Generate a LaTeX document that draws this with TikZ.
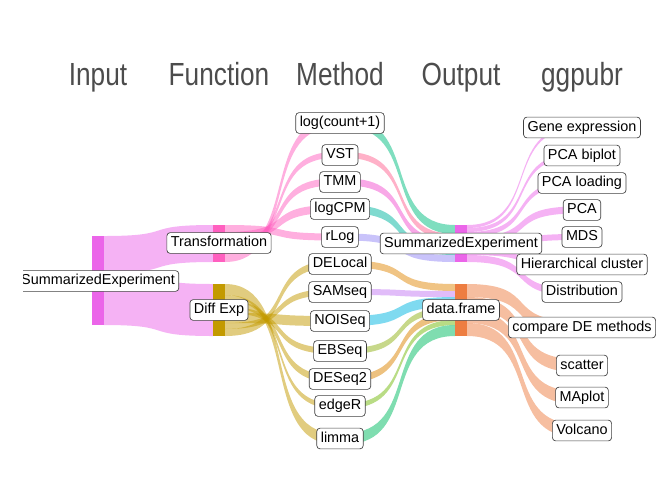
\documentclass[tikz,border=0pt]{standalone}
\usepackage{fontspec}
\setmainfont{Liberation Sans}
\newfontfamily\titlefont[FakeStretch=0.82]{Liberation Sans}
\usepackage{tikz}
\usetikzlibrary{positioning}

\definecolor{colSE}{HTML}{EB65E9}
\definecolor{colTr}{HTML}{FF5FBF}
\definecolor{colDE}{HTML}{C39A00}
\definecolor{colDF}{HTML}{ED7D41}
\definecolor{colLc}{HTML}{00BE80}
\definecolor{colVST}{HTML}{FF6392}
\definecolor{colTMM}{HTML}{F251D0}
\definecolor{colCPM}{HTML}{00B5A0}
\definecolor{colRlog}{HTML}{9488F5}
\definecolor{colDEL}{HTML}{E18909}
\definecolor{colSAM}{HTML}{C37AF3}
\definecolor{colNOI}{HTML}{00B5E1}
\definecolor{colEBS}{HTML}{8FB115}
\definecolor{colDES}{HTML}{DB8300}
\definecolor{colEdg}{HTML}{73B90B}
\definecolor{colLim}{HTML}{00BB61}

\newcommand{\flowband}[7]{\fill[#7,fill opacity=0.5] (#1,#2) .. controls ({#1+0.68*(#4-#1)},#2) and ({#4-0.68*(#4-#1)},#5) .. (#4,#5) -- (#4,#6) .. controls ({#4-0.68*(#4-#1)},#6) and ({#1+0.68*(#4-#1)},#3) .. (#1,#3) -- cycle;}
\newcommand{\strat}[4]{\fill[#4] ({#1-6},#2) rectangle ({#1+6},#3);}

\begin{document}
\begin{tikzpicture}[x=0.75pt,y=-0.75pt,
  tag/.style={draw=black!75,fill=white,rounded corners=2.5pt,line width=0.5pt,inner xsep=3pt,inner ysep=2.5pt,text height=8.2pt,text depth=2.4pt,font=\fontsize{10.8pt}{13pt}\selectfont},
  axistitle/.style={anchor=base,text=black!70,font=\titlefont\fontsize{24pt}{28pt}\selectfont}]
\useasboundingbox (0,0) rectangle (672,480);

\node[axistitle] (t1) at (98,85)  {Input};
\node[axistitle] (t2) at (219,85) {Function};
\node[axistitle] (t3) at (340,85) {Method};
\node[axistitle] (t4) at (461,85) {Output};
\node[axistitle] (t5) at (582,85) {ggpubr};

\begin{scope}
\clip (23,0) rectangle (672,480);

\flowband{104}{236}{273}{213}{225}{262}{colSE}
\flowband{104}{273}{325}{213}{284}{336}{colSE}

\flowband{225}{225}{232}{334}{233.5}{240.5}{colTr}
\flowband{225}{232}{240}{334}{205}{213}{colTr}
\flowband{225}{240}{247}{334}{178.5}{185.5}{colTr}
\flowband{225}{247}{253}{334}{152}{158}{colTr}
\flowband{225}{253}{262}{334}{118.5}{127.5}{colTr}
\flowband{225}{284}{295}{334}{433}{444}{colDE}
\flowband{225}{295}{300}{334}{403.5}{408.5}{colDE}
\flowband{225}{300}{307}{334}{375.5}{382.5}{colDE}
\flowband{225}{307}{313}{334}{348}{354}{colDE}
\flowband{225}{313}{323}{334}{316}{326}{colDE}
\flowband{225}{323}{329}{334}{289}{295}{colDE}
\flowband{225}{329}{336}{334}{260.5}{267.5}{colDE}

\flowband{346}{118.5}{127.5}{455}{225}{234}{colLc}
\flowband{346}{152}{158}{455}{234}{240}{colVST}
\flowband{346}{178.5}{185.5}{455}{240}{247}{colTMM}
\flowband{346}{205}{213}{455}{247}{255}{colCPM}
\flowband{346}{233.5}{240.5}{455}{255}{262}{colRlog}
\flowband{346}{260.5}{267.5}{455}{284}{291}{colDEL}
\flowband{346}{289}{295}{455}{291}{297}{colSAM}
\flowband{346}{316}{326}{455}{297}{307}{colNOI}
\flowband{346}{348}{354}{455}{307}{313}{colEBS}
\flowband{346}{375.5}{382.5}{455}{313}{320}{colDES}
\flowband{346}{403.5}{408.5}{455}{320}{325}{colEdg}
\flowband{346}{433}{444}{455}{325}{336}{colLim}

\flowband{467}{225}{228}{576}{126}{129}{colSE}
\flowband{467}{228}{232}{576}{153.5}{157.5}{colSE}
\flowband{467}{232}{237}{576}{180.5}{185.5}{colSE}
\flowband{467}{237}{244}{576}{206.5}{213.5}{colSE}
\flowband{467}{244}{250}{576}{234}{240}{colSE}
\flowband{467}{250}{255}{576}{262}{267}{colSE}
\flowband{467}{255}{262}{576}{288.5}{295.5}{colSE}
\flowband{467}{284}{297}{576}{321}{334}{colDF}
\flowband{467}{297}{310}{576}{359}{372}{colDF}
\flowband{467}{310}{323}{576}{391}{404}{colDF}
\flowband{467}{323}{336}{576}{424}{437}{colDF}

\strat{98}{236}{325}{colSE}
\strat{219}{225}{262}{colTr}
\strat{219}{284}{336}{colDE}
\strat{340}{118.5}{127.5}{colLc}
\strat{340}{152}{158}{colVST}
\strat{340}{178.5}{185.5}{colTMM}
\strat{340}{205}{213}{colCPM}
\strat{340}{233.5}{240.5}{colRlog}
\strat{340}{260.5}{267.5}{colDEL}
\strat{340}{289}{295}{colSAM}
\strat{340}{316}{326}{colNOI}
\strat{340}{348}{354}{colEBS}
\strat{340}{375.5}{382.5}{colDES}
\strat{340}{403.5}{408.5}{colEdg}
\strat{340}{433}{444}{colLim}
\strat{461}{225}{262}{colSE}
\strat{461}{284}{336}{colDF}

\node[tag] (in1) at (98,281)    {SummarizedExperiment};
\node[tag] (fn1) at (219,243)   {Transformation};
\node[tag] (fn2) at (219,310)   {Diff Exp};
\node[tag] (m1)  at (340,123)   {log(count+1)};
\node[tag] (m2)  at (340,155)   {VST};
\node[tag] (m3)  at (340,182)   {TMM};
\node[tag] (m4)  at (340,209)   {logCPM};
\node[tag] (m5)  at (340,237)   {rLog};
\node[tag] (m6)  at (340,264)   {DELocal};
\node[tag] (m7)  at (340,292)   {SAMseq};
\node[tag] (m8)  at (340,321)   {NOISeq};
\node[tag] (m9)  at (340,351)   {EBSeq};
\node[tag] (m10) at (340,379)   {DESeq2};
\node[tag] (m11) at (340,406)   {edgeR};
\node[tag] (m12) at (340,438.5) {limma};
\node[tag] (out1) at (461,243.5) {SummarizedExperiment};
\node[tag] (out2) at (461,310)   {data.frame};
\node[tag] (gg1)  at (582,127.5) {Gene expression};
\node[tag] (gg2)  at (582,155.5) {PCA biplot};
\node[tag] (gg3)  at (582,183)   {PCA loading};
\node[tag] (gg4)  at (582,210)   {PCA};
\node[tag] (gg5)  at (582,237)   {MDS};
\node[tag] (gg6)  at (582,264.5) {Hierarchical cluster};
\node[tag] (gg7)  at (582,292)   {Distribution};
\node[tag] (gg8)  at (582,327.5) {compare DE methods};
\node[tag] (gg9)  at (582,365.5) {scatter};
\node[tag] (gg10) at (582,397.5) {MAplot};
\node[tag] (gg11) at (582,430.5) {Volcano};
\end{scope}
\end{tikzpicture}
\end{document}
